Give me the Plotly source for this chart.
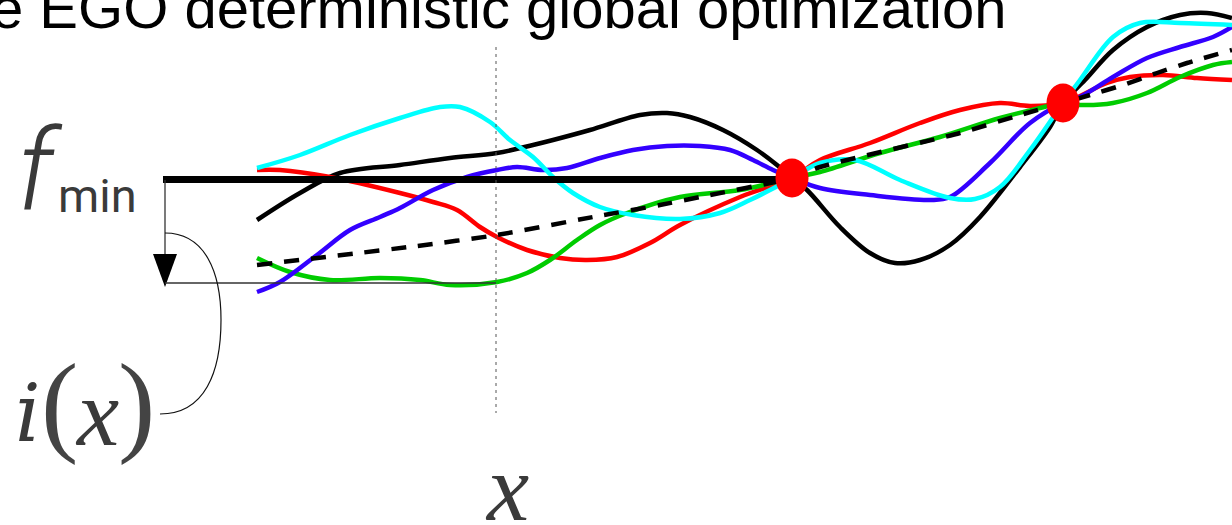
import plotly.graph_objects as go

# ---------------- data (pixel-space diagram coordinates) ----------------
black_x = [257, 300, 340, 400, 450, 497, 533, 553, 590, 640, 667, 690, 723, 757, 777, 792, 807, 840, 870, 895, 920, 950, 980, 1020, 1050, 1063, 1085, 1113, 1147, 1180, 1207, 1232]
black_y = [220, 193, 173, 165, 158, 153, 145, 140, 130, 115, 113, 117, 130, 150, 165, 178, 190, 227, 253, 263, 260, 245, 217, 167, 127, 103, 80, 50, 27, 15, 13, 18]

cyan_x = [257, 300, 350, 400, 440, 460, 490, 510, 533, 553, 573, 600, 633, 680, 720, 750, 770, 792, 820, 855, 900, 950, 975, 1000, 1030, 1063, 1080, 1113, 1140, 1180, 1232]
cyan_y = [168, 155, 135, 118, 107, 107, 122, 140, 157, 177, 193, 207, 215, 219, 213, 200, 190, 178, 163, 160, 180, 198, 199, 187, 150, 103, 80, 37, 23, 23, 25]

red_x = [257, 280, 330, 400, 433, 457, 480, 497, 527, 560, 587, 617, 650, 680, 740, 792, 820, 870, 920, 960, 1000, 1030, 1063, 1107, 1130, 1163, 1197, 1232]
red_y = [170, 170, 177, 193, 202, 210, 227, 237, 250, 258, 260, 257, 243, 225, 197, 178, 160, 143, 123, 110, 103, 106, 103, 83, 77, 75, 78, 80]

green_x = [257, 290, 330, 380, 420, 450, 497, 527, 550, 577, 600, 627, 680, 740, 792, 820, 880, 940, 1000, 1040, 1063, 1080, 1113, 1147, 1180, 1213, 1232]
green_y = [258, 272, 280, 278, 280, 285, 282, 273, 260, 240, 225, 213, 197, 190, 178, 172, 153, 137, 118, 108, 103, 105, 103, 93, 77, 65, 62]

blue_x = [257, 280, 317, 350, 380, 400, 433, 467, 497, 517, 543, 567, 600, 633, 667, 700, 730, 753, 773, 792, 820, 870, 930, 950, 990, 1030, 1063, 1080, 1113, 1147, 1180, 1213, 1232]
blue_y = [292, 282, 255, 230, 217, 208, 190, 177, 170, 167, 170, 168, 158, 150, 146, 146, 150, 160, 170, 178, 188, 195, 200, 197, 163, 123, 103, 97, 77, 58, 47, 37, 27]

mean_x = [257, 417, 497, 593, 660, 700, 792, 820, 960, 1020, 1063, 1090, 1123, 1157, 1187, 1232]
mean_y = [265, 246, 235, 217, 205, 197, 178, 167, 133, 115, 103, 95, 85, 73, 63, 50]

fmin_x = [163, 792]
fmin_y = [179.5, 179.5]

dot_x = [792, 1063]
dot_y = [178, 103]

title_text = "e EGO deterministic global optimization"

# ---------------- figure ----------------
fig = go.Figure()

curves = [
    (black_x, black_y, "#000000"),
    (red_x, red_y, "#ff0000"),
    (green_x, green_y, "#00cc00"),
    (blue_x, blue_y, "#3300ff"),
    (cyan_x, cyan_y, "#00ffff"),
]
for cx, cy, col in curves:
    fig.add_trace(go.Scatter(x=cx, y=cy, mode="lines",
                             line=dict(color=col, width=4.5, shape="spline", smoothing=1.0),
                             hoverinfo="skip", showlegend=False))

fig.add_trace(go.Scatter(x=mean_x, y=mean_y, mode="lines",
                         line=dict(color="#000000", width=4.5, dash="15px,12px", shape="spline", smoothing=0.6),
                         hoverinfo="skip", showlegend=False))

fig.add_trace(go.Scatter(x=fmin_x, y=fmin_y, mode="lines",
                         line=dict(color="#000000", width=7),
                         hoverinfo="skip", showlegend=False))

shapes = []
shapes.append(dict(type="line", xref="x", yref="y", x0=496, x1=496, y0=47, y1=413,
                   line=dict(color="#555555", width=1, dash="3px,4px")))
shapes.append(dict(type="line", xref="x", yref="y", x0=165, x1=165, y0=180, y1=258,
                   line=dict(color="#333333", width=1.3)))
shapes.append(dict(type="path", xref="x", yref="y", path="M 153 254 L 177 254 L 165 287 Z",
                   fillcolor="#000000", line=dict(color="#000000", width=0)))
shapes.append(dict(type="line", xref="x", yref="y", x0=165, x1=496, y0=283, y1=283,
                   line=dict(color="#333333", width=1.3)))
shapes.append(dict(type="path", xref="x", yref="y",
                   path="M 165 233 C 205 233, 221 272, 221 320 C 221 372, 205 414, 160 414",
                   line=dict(color="#111111", width=1.2)))
for dx, dy in zip(dot_x, dot_y):
    shapes.append(dict(type="circle", xref="x", yref="y",
                       x0=dx - 16.5, x1=dx + 16.5, y0=dy - 19.5, y1=dy + 19.5,
                       fillcolor="#ff0000", line=dict(color="#ff0000", width=0), layer="above"))

annotations = [
    dict(x=1008, y=7, text=title_text, xanchor="right", yanchor="middle", showarrow=False,
         font=dict(family="Liberation Sans", size=58, color="#000000")),
    dict(x=40, y=170, text="f", xanchor="center", yanchor="middle", showarrow=False,
         font=dict(family="Roboto", size=112, color="#3a3a3a", style="italic", weight=300)),
    dict(x=56, y=195, text="min", xanchor="left", yanchor="middle", showarrow=False,
         font=dict(family="Roboto", size=47, color="#3a3a3a")),
    dict(x=28, y=413, text="i", xanchor="center", yanchor="middle", showarrow=False,
         font=dict(family="DejaVu Serif", size=80, color="#3a3a3a", style="italic")),
    dict(x=59, y=403, text="(", xanchor="center", yanchor="middle", showarrow=False,
         font=dict(family="Liberation Serif", size=112, color="#444444")),
    dict(x=97, y=413, text="x", xanchor="center", yanchor="middle", showarrow=False,
         font=dict(family="Liberation Serif", size=95, color="#3a3a3a", style="italic")),
    dict(x=136, y=403, text=")", xanchor="center", yanchor="middle", showarrow=False,
         font=dict(family="Liberation Serif", size=112, color="#444444")),
    dict(x=507, y=488, text="x", xanchor="center", yanchor="middle", showarrow=False,
         font=dict(family="Liberation Serif", size=95, color="#3a3a3a", style="italic")),
]

fig.update_layout(
    width=1232, height=525,
    margin=dict(l=0, r=0, t=0, b=0),
    paper_bgcolor="#ffffff", plot_bgcolor="#ffffff",
    xaxis=dict(range=[0, 1232], visible=False, fixedrange=True),
    yaxis=dict(range=[525, 0], visible=False, fixedrange=True),
    shapes=shapes, annotations=annotations, showlegend=False,
)

fig.write_html("out.html", config={"displayModeBar": False},
               post_script="document.body.style.margin='0';document.body.style.overflow='hidden';")
